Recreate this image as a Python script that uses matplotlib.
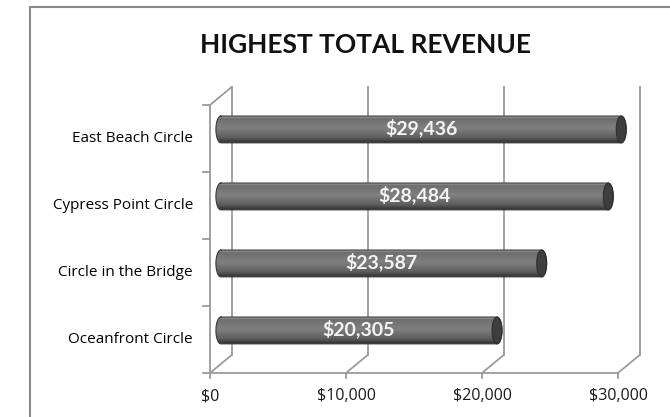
import numpy as np
import matplotlib.pyplot as plt
from matplotlib.colors import LinearSegmentedColormap
from matplotlib.patches import Ellipse, Rectangle
from matplotlib.path import Path

# Data (bottom to top)
categories = ['Oceanfront Circle', 'Circle in the Bridge', 'Cypress Point Circle', 'East Beach Circle']
revenue = [20305, 23587, 28484, 29436]
ticks = [0, 10000, 20000, 30000]
tick_labels = ['$0', '$10,000', '$20,000', '$30,000']

# fake 3D depth offset (in data units)
DX, DY = 1600, 0.27
BAR_H = 0.4
CAP_W = 730

fig = plt.figure(figsize=(6.7, 4.17), dpi=100)
ax = fig.add_axes([195 / 670, 17 / 417, 465 / 670, 320 / 417])
ax.axis('off')

grid_c = '#9a9a9a'
lo, hi = -0.5, len(categories) - 0.5

# back wall gridlines, floor diagonals, front ticks
for t, lab in zip(ticks, tick_labels):
    ax.plot([t + DX, t + DX], [lo + DY, hi + DY], color=grid_c, lw=1.3)
    ax.plot([t, t + DX], [lo, lo + DY], color=grid_c, lw=1.3)
    ax.plot([t, t], [lo, lo - 0.08], color=grid_c, lw=1.3)
    ax.text(t, lo - 0.35, lab, ha='center', va='center',
            fontsize=11.5, family='Open Sans', color='#1a1a1a')

# front floor edge, left wall
ax.plot([0, ticks[-1]], [lo, lo], color=grid_c, lw=1.3)
ax.plot([0, 0], [lo, hi], color=grid_c, lw=1.3)
ax.plot([0, DX], [hi, hi + DY], color=grid_c, lw=1.3)
for k in range(len(categories) + 1):
    ax.plot([0, -500], [lo + k, lo + k], color=grid_c, lw=1.3)

# cylinder gradient
cmap = LinearSegmentedColormap.from_list('cyl', [
    (0.0, '#b0b0b0'), (0.08, '#6e6e6e'), (0.45, '#808080'),
    (0.8, '#5e5e5e'), (0.94, '#3c3c3c'), (1.0, '#2a2a2a')])
grad = np.linspace(0, 1, 200).reshape(-1, 1)

th = np.linspace(0, np.pi, 40)
for i, (name, v) in enumerate(zip(categories, revenue)):
    yc = i + DY / 2
    xs, xe = DX / 2, v + DX / 2
    y0, y1 = yc - BAR_H / 2, yc + BAR_H / 2
    left = np.column_stack([xs - CAP_W / 2 * np.sin(th), yc + BAR_H / 2 * np.cos(th)])
    right = np.column_stack([xe + CAP_W / 2 * np.sin(th), yc - BAR_H / 2 * np.cos(th)])
    verts = np.vstack([left, right, left[:1]])
    clip = Path(verts, closed=True)
    im = ax.imshow(grad, cmap=cmap, extent=[xs - CAP_W, xe + CAP_W, y0, y1],
                   origin='upper', aspect='auto', interpolation='bilinear', zorder=3)
    im.set_clip_path(clip, transform=ax.transData)
    ax.plot(verts[:, 0], verts[:, 1], color='#3a3a3a', lw=0.8, zorder=4)
    ax.add_patch(Ellipse((xe, yc), CAP_W, BAR_H, facecolor='#3e3e3e',
                         edgecolor='#2e2e2e', lw=0.8, zorder=5))
    ax.text((xs + xe) / 2, yc + 0.03, f'${v:,}', ha='center', va='center',
            fontsize=14, fontweight='bold', family='Lato', color='#f4f4f4', zorder=6)
    ax.text(-1250, i, name, ha='right', va='center', fontsize=11,
            family='Open Sans', color='#000000', clip_on=False)

ax.set_xlim(-1103, 33088)
ax.set_ylim(-0.903, 3.873)

fig.text(365 / 670, 1 - 45 / 417, 'HIGHEST TOTAL REVENUE', ha='center', va='center',
         fontsize=19, fontweight='bold', family='Lato', color='#111111')

# outer chart border
fig.add_artist(Rectangle((30 / 670, -0.1), 2, 1.1 - 7.5 / 417, transform=fig.transFigure,
                         fill=False, edgecolor='#8a8a8a', lw=1.5))

fig.savefig('out.png', dpi=100)
